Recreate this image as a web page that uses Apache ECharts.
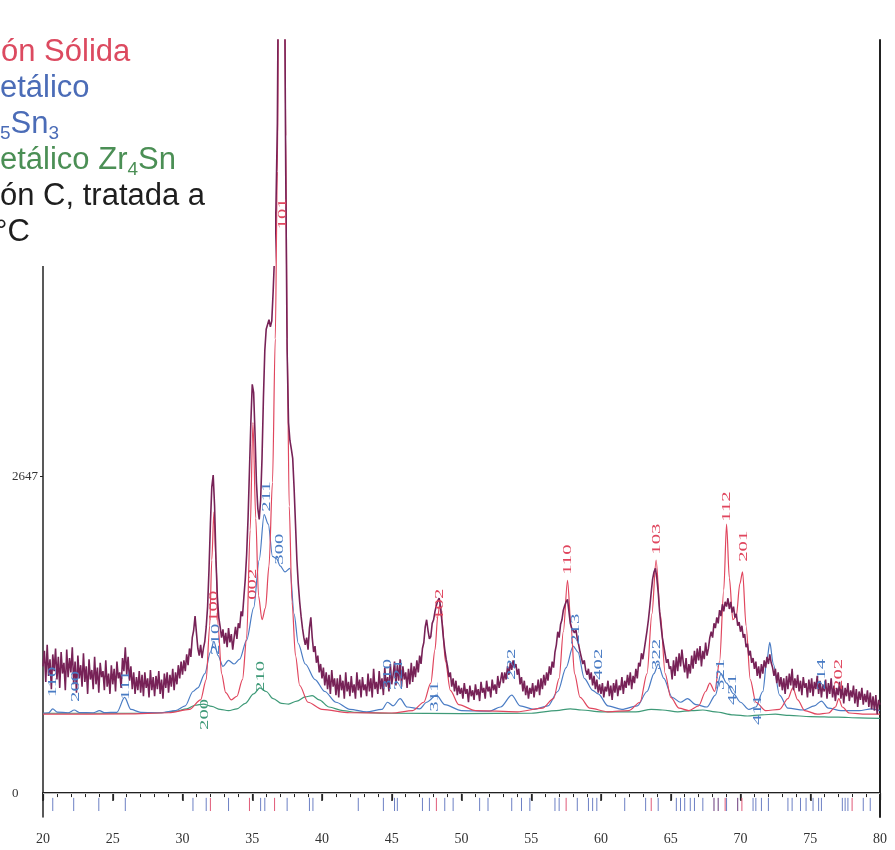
<!DOCTYPE html>
<html>
<head>
<meta charset="utf-8">
<script src="https://cdn.jsdelivr.net/npm/echarts@6/dist/echarts.min.js"></script>
<style>
  html, body { margin: 0; padding: 0; background: #ffffff; }
  #chart { width: 895px; height: 850px; }
</style>
</head>
<body>
<div id="chart"></div>
<script>
// 2-theta axis and intensity labels
const xTickValues = [20, 25, 30, 35, 40, 45, 50, 55, 60, 65, 70, 75, 80];
const yTickLabels = [0, 2647];

// Measured pattern: counts sampled every 0.1 degree from 20.0 to 80.0
const expStart = 20;
const expStep = 0.1;
const expCounts = [
  1060,1190,930,1240,980,1120,870,1160,1020,1210,
  950,1140,880,1180,1000,1090,860,1200,970,1130,
  1010,1220,910,1100,840,1150,960,1070,890,1170,
  930,1060,830,1120,950,1030,870,1140,910,1050,
  840,1090,970,1020,860,1110,890,1000,830,1070,
  910,1040,850,1100,960,1010,880,1130,1020,1220,
  990,1140,940,1060,870,1010,830,970,860,1020,
  840,990,810,1010,880,960,800,1030,860,970,
  810,980,870,1020,830,950,790,1000,880,1010,
  840,990,890,1040,860,1010,910,1070,960,1100,
  990,1110,1020,1160,1070,1210,1140,1300,1360,1480,
  1340,1210,1150,1240,1130,1210,1270,1390,1560,1870,
  2250,2560,2660,2400,1950,1640,1470,1390,1300,1370,
  1250,1340,1220,1380,1260,1330,1200,1300,1390,1290,
  1420,1380,1520,1480,1640,1790,2000,2300,2700,3100,
  3420,3350,3000,2600,2380,2290,2450,2800,3300,3700,
  3880,3920,3960,3900,3950,4200,4500,4900,5600,7400,
  8200,8400,8200,7200,5200,3700,3100,2950,2880,2800,
  2550,2250,1950,1750,1600,1480,1380,1300,1240,1300,
  1200,1380,1470,1300,1180,1230,1090,1150,1010,1080,
  960,1050,900,1010,870,990,830,1030,890,960,
  820,960,800,990,860,940,790,1010,850,930,
  810,980,840,910,790,1010,860,950,800,970,
  860,910,810,1000,850,960,800,1040,870,930,
  830,1020,870,960,820,1050,890,970,850,1080,
  910,990,1100,900,1070,940,1120,890,1060,950,
  1010,880,1040,910,1090,930,1060,970,1110,1010,
  1150,1080,1210,1260,1390,1450,1360,1290,1310,1420,
  1450,1520,1570,1610,1630,1560,1430,1300,1200,1120,
  1060,970,1010,890,960,850,940,820,900,830,
  880,790,920,830,870,760,900,810,860,780,
  910,820,870,770,930,840,880,790,940,850,
  890,800,950,860,910,830,980,880,940,1010,
  920,1010,950,1060,990,1090,1030,1110,1050,1080,
  990,1040,910,970,850,940,820,900,790,880,
  830,920,800,900,850,950,820,960,870,990,
  900,1010,940,1060,990,1100,1050,1180,1240,1350,
  1300,1410,1450,1530,1570,1600,1620,1520,1420,1380,
  1390,1340,1370,1290,1240,1180,1130,1080,1110,1030,
  990,1040,950,1010,900,980,870,950,840,910,
  830,920,800,890,850,940,810,900,780,920,
  840,950,810,900,860,970,830,940,880,990,
  900,1010,870,980,920,1040,960,1090,1060,1170,
  1120,1200,1280,1360,1450,1560,1680,1790,1850,1880,
  1800,1680,1520,1400,1300,1230,1160,1090,1120,1040,
  1060,950,1110,980,1140,1020,1170,1060,1200,1090,
  1010,1130,960,1080,1000,1150,1040,1190,1080,1210,
  1110,1230,1060,1190,1120,1260,1150,1210,1300,1350,
  1300,1420,1380,1470,1420,1530,1480,1580,1520,1600,
  1560,1630,1540,1600,1510,1560,1470,1500,1400,1430,
  1350,1400,1300,1330,1220,1250,1150,1190,1090,1130,
  1040,1100,980,1060,960,1080,1000,1110,1050,1140,
  1080,1160,1090,1050,980,1040,920,1010,890,970,
  860,960,830,980,870,1000,900,1040,860,960,
  880,990,850,940,820,970,880,920,800,950,
  840,960,810,930,870,980,830,940,800,910,
  850,950,790,920,830,960,800,900,770,880,
  820,930,790,900,750,880,810,920,770,860,
  800,900,750,870,720,850,780,880,740,830,
  760,860,720,840,700,810,690,820,660,780,
  740
];

// Calculated profile: solid solution (red)
const solidSolution = [
  [20,660],[26,662],[29,672],[30.5,700],[31.3,780],[31.7,950],[31.95,1400],[32.1,1950],
  [32.25,2350],[32.4,1950],[32.55,1400],[32.8,1000],[33.1,840],[33.5,780],[33.9,810],
  [34.3,950],[34.6,1300],[34.85,2200],[35.05,3100],[35.25,2300],[35.45,1650],[35.7,1450],
  [35.95,1550],[36.2,1900],[36.45,2600],[36.65,3800],[36.8,5200],[36.9,7000],[37.0,8000],
  [37.15,8300],[37.3,7500],[37.4,5500],[37.5,3800],[37.65,2400],[37.85,1600],[38.1,1150],
  [38.4,900],[39,760],[40,700],[42,672],
  [45,670],[46.5,690],[47.3,760],[47.8,920],[48.1,1200],[48.3,1480],[48.45,1580],[48.6,1450],
  [48.85,1100],[49.2,860],[49.8,740],[51,690],[54,680],[55.8,710],[56.6,790],[57.0,960],
  [57.3,1350],[57.6,1780],[57.85,1400],[58.1,1000],[58.5,800],[59.2,710],[60.5,680],[62,690],
  [62.8,760],[63.3,1000],[63.65,1500],[63.95,1950],[64.25,1500],[64.6,1000],[65.0,800],
  [65.6,710],[66.3,690],[67.0,730],[67.5,850],[67.8,920],[68.15,850],[68.5,1100],[68.8,1700],
  [69.0,2250],[69.2,1800],[69.45,1450],[69.7,1480],[69.95,1750],[70.15,1850],[70.4,1400],
  [70.7,950],[71.1,760],[71.8,690],[72.8,700],[73.4,790],[73.75,880],[74.1,780],[74.6,690],
  [75.5,660],[76.3,670],[76.8,720],[77.05,790],[77.3,720],[77.8,670],[79,660],[80,660]
];

// Calculated profile: Zr5Sn3 (blue)
const zr5sn3 = [
  [20,668],[20.4,672],[20.7,705],[21.0,678],[21.8,672],[22.25,695],[22.6,674],[23.6,672],
  [24.05,690],[24.4,673],[25.3,676],[25.85,800],[26.3,700],[27,676],[28.5,672],[29.5,690],
  [30.2,730],[30.75,850],[31.1,880],[31.6,1000],[32.0,1180],[32.25,1270],[32.55,1150],
  [32.9,1060],[33.3,1110],[33.7,1080],[34.1,1120],[34.6,1280],[35.1,1550],[35.5,1950],
  [35.85,2330],[36.15,2250],[36.45,1980],[36.75,1960],[37.0,1900],[37.35,1850],[37.7,1880],
  [38.0,1500],[38.3,1250],[38.8,1080],[39.5,950],[40.2,850],[41,760],[42,700],[43.2,680],
  [44.3,700],[44.7,760],[45.1,730],[45.6,790],[46.1,720],[47.0,705],[47.5,760],[48.2,820],
  [48.8,740],[50,690],[52,685],[52.8,720],[53.6,820],[54.2,730],[55.2,700],[56.2,730],
  [56.9,850],[57.5,1050],[58.0,1230],[58.35,1180],[58.8,960],[59.4,860],[59.8,830],[60.5,730],
  [61.5,700],[62.6,730],[63.3,850],[63.8,1000],[64.1,1080],[64.5,960],[65.1,800],[65.7,760],
  [66.2,790],[66.8,740],[67.6,720],[68.2,820],[68.6,1000],[69.0,920],[69.5,830],[70.0,760],
  [70.6,700],[71.1,720],[71.6,850],[71.9,1120],[72.1,1260],[72.35,1080],[72.8,820],[73.4,710],
  [74.5,695],[75.3,730],[75.8,770],[76.3,710],[77.2,690],[78.5,690],[79.4,705],[80,690]
];

// Calculated profile: Zr4Sn (green)
const zr4sn = [
  [20,668],[27,668],[28.5,672],[29.5,685],[30.3,705],[30.9,735],[31.5,745],[32.1,725],
  [32.7,700],[33.3,690],[33.9,705],[34.5,750],[35.1,830],[35.55,880],[36.0,850],[36.5,790],
  [37.1,750],[37.6,745],[38.2,770],[38.8,805],[39.3,815],[39.8,780],[40.5,720],[41.5,690],
  [42.5,675],[45,668],[50,665],[55,668],[56.8,690],[57.8,705],[58.6,695],[60,680],[62.5,680],
  [63.6,700],[64.4,695],[65.5,680],[66.5,690],[67.3,695],[68.2,680],[69.5,655],[70.5,645],
  [71.5,655],[72.5,660],[73.5,650],[75,640],[77,635],[78.5,630],[80,625]
];

// Miller indices: [2-theta, intensity at label foot, hkl]
const hklSolid = [
  [32.25,1432,'100'],[35.05,1617,'002'],[37.15,4716,'101'],[48.45,1449,'102'],
  [57.6,1826,'110'],[63.95,1994,'103'],[69.0,2270,'112'],[70.2,1935,'201'],[77.0,863,'202']
];
const hklZr5Sn3 = [
  [20.7,804,'110'],[22.3,762,'200'],[25.9,779,'111'],[32.4,1156,'210'],[36.0,2354,'211'],
  [36.95,1910,'300'],[44.7,863,'310'],[45.5,863,'221'],[48.1,680,'311'],[53.6,947,'222'],
  [58.2,1240,'213'],[59.8,947,'402'],[64.0,1030,'322'],[68.6,863,'321'],[69.4,737,'421'],
  [71.2,570,'411'],[75.8,863,'214']
];
const hklZr4Sn = [
  [31.6,528,'200'],[35.6,846,'210']
];

// Reference line positions (2-theta) for the three phases
const sticksZr5Sn3 = [
  20.7,22.2,24.0,25.9,30.75,31.7,33.3,35.6,35.9,37.5,39.1,39.35,42.6,44.4,45.2,45.4,47.2,47.7,
  48.8,49.4,51.3,51.9,53.6,54.3,54.9,56.7,57.0,58.3,59.1,59.4,59.7,61.7,63.2,64.1,65.4,65.7,
  66.0,66.4,66.7,67.3,69.0,70.9,71.1,71.5,72.0,73.4,73.7,74.3,74.7,75.2,75.6,75.8,77.3,77.5,
  77.7,78.8,79.3
];
const sticksSolid = [32.0,34.8,36.6,48.2,57.5,63.6,68.9,70.1,78.0];
const sticksZr4Sn = [68.1,68.4,69.8];

const C = {
  exp: '#772257',
  red: '#e0465e',
  blue: '#4a7cc4',
  green: '#3f9a78',
  axis: '#222222',
  tickText: '#333333'
};

const expData = expCounts.map((v, i) => [Number((expStart + i * expStep).toFixed(1)), v]);

function stickSeries(values, color, withZero) {
  const s = {
    type: 'custom',
    xAxisIndex: 0, yAxisIndex: 0,
    silent: true,
    z: 3,
    data: values.map(v => [v]),
    encode: { x: 0 },
    renderItem: function (params, api) {
      const x = api.value(0);
      const a = api.coord([x, -40]);
      const b = api.coord([x, -150]);
      return {
        type: 'line',
        shape: { x1: a[0], y1: a[1], x2: b[0], y2: b[1] },
        style: { stroke: color, lineWidth: 1 }
      };
    }
  };
  if (withZero) {
    s.markLine = {
      silent: true, symbol: 'none', label: { show: false },
      lineStyle: { color: '#b8b8b8', width: 1, type: 'solid' },
      data: [{ yAxis: 0 }]
    };
  }
  return s;
}

// hkl annotations: vertical, condensed serif text reading bottom to top
function hklSeries(list, color) {
  return {
    type: 'custom',
    xAxisIndex: 0, yAxisIndex: 0,
    silent: true,
    z: 10,
    data: list.map(d => [d[0], d[1]]),
    encode: { x: 0, y: 1 },
    renderItem: function (params, api) {
      const p = api.coord([api.value(0), api.value(1)]);
      return {
        type: 'text',
        x: p[0], y: p[1],
        rotation: Math.PI / 2,
        scaleX: 1.6,
        style: {
          text: list[params.dataIndex][2],
          fill: color,
          font: '13px "Liberation Serif"',
          align: 'left', verticalAlign: 'middle',
          textAlign: 'left', textVerticalAlign: 'middle'
        }
      };
    }
  };
}

function profile(data, color, width, z) {
  return {
    type: 'line', data: data, showSymbol: false, symbol: 'none',
    smooth: 0.3, smoothMonotone: 'x', clip: true, silent: true, z: z,
    lineStyle: { color: color, width: width }
  };
}

const chart = echarts.init(document.getElementById('chart'), null, { renderer: 'canvas' });

const legendFont = '31px "Liberation Sans", Arial, sans-serif';
const subRich = {
  n: { fontSize: 31, lineHeight: 38, fontFamily: 'Liberation Sans' },
  sub: { fontSize: 19, lineHeight: 19, verticalAlign: 'bottom', fontFamily: 'Liberation Sans' }
};

chart.setOption({
  animation: false,
  backgroundColor: '#ffffff',
  grid: { left: 43, right: 15, top: 40, bottom: 33 },
  xAxis: [
    {
      type: 'value', min: 20, max: 80, interval: 5, position: 'bottom',
      axisLine: { show: true, lineStyle: { color: C.axis, width: 2 } },
      axisTick: { show: true, length: 8, lineStyle: { color: C.axis, width: 1.5 } },
      minorTick: { show: true, splitNumber: 5, length: 4, lineStyle: { color: C.axis, width: 1 } },
      axisLabel: {
        customValues: xTickValues,
        color: C.tickText, fontFamily: 'Liberation Serif', fontSize: 14, margin: 15
      },
      splitLine: { show: false }, minorSplitLine: { show: false }
    },
    {
      type: 'value', min: 20, max: 80, interval: 5, position: 'top',
      axisLine: { show: true, lineStyle: { color: C.axis, width: 1.5 } },
      axisTick: { show: true, inside: true, length: 7, lineStyle: { color: C.axis, width: 1.2 } },
      axisLabel: { show: false },
      splitLine: { show: false }
    }
  ],
  yAxis: [
    {
      type: 'value', min: -200, max: 6300, position: 'left',
      axisLine: { show: true, lineStyle: { color: C.axis, width: 1.5 } },
      axisTick: { show: true, customValues: [2647], length: 3, lineStyle: { color: C.axis } },
      axisLabel: {
        customValues: yTickLabels,
        formatter: v => String(v),
        color: C.tickText, fontFamily: 'Liberation Serif', fontSize: 13,
        align: 'left', margin: 31
      },
      splitLine: { show: false }
    },
    {
      type: 'value', min: -200, max: 6300, position: 'right',
      axisLine: { show: true, lineStyle: { color: C.axis, width: 2 } },
      axisTick: { show: false }, axisLabel: { show: false },
      splitLine: { show: false }
    }
  ],
  series: [
    stickSeries(sticksZr5Sn3, '#6d80c4', true),
    stickSeries(sticksSolid, '#e05a78', false),
    stickSeries(sticksZr4Sn, '#6a3a7c', false),
    profile(zr4sn, C.green, 1.2, 4),
    profile(zr5sn3, C.blue, 1.2, 5),
    profile(solidSolution, C.red, 1.2, 6),
    {
      type: 'line', data: expData, showSymbol: false, symbol: 'none',
      clip: true, silent: true, z: 7,
      lineStyle: { color: C.exp, width: 1.6 }
    },
    hklSeries(hklSolid, C.red),
    hklSeries(hklZr5Sn3, C.blue),
    hklSeries(hklZr4Sn, C.green)
  ],
  graphic: [
    { type: 'rect', z: 100, shape: { x: 0, y: 0, width: 275, height: 266 }, style: { fill: '#ffffff' } },
    { type: 'text', z: 101, x: 1, y: 52, style: { text: 'ón Sólida', font: legendFont, fill: '#dc4a60', verticalAlign: 'middle', textVerticalAlign: 'middle' } },
    { type: 'text', z: 101, x: 0, y: 88, style: { text: 'etálico', font: legendFont, fill: '#4b6cb7', verticalAlign: 'middle', textVerticalAlign: 'middle' } },
    { type: 'text', z: 101, x: 0, y: 124, style: { text: '{sub|5}{n|Sn}{sub|3}', rich: subRich, fill: '#4b6cb7', verticalAlign: 'middle', textVerticalAlign: 'middle' } },
    { type: 'text', z: 101, x: 0, y: 160, style: { text: '{n|etálico Zr}{sub|4}{n|Sn}', rich: subRich, fill: '#4b8f55', verticalAlign: 'middle', textVerticalAlign: 'middle' } },
    { type: 'text', z: 101, x: 0, y: 196, style: { text: 'ón C, tratada a', font: legendFont, fill: '#1e1e1e', verticalAlign: 'middle', textVerticalAlign: 'middle' } },
    { type: 'text', z: 101, x: -5, y: 232, style: { text: '°C', font: legendFont, fill: '#1e1e1e', verticalAlign: 'middle', textVerticalAlign: 'middle' } }
  ]
});
</script>
</body>
</html>
